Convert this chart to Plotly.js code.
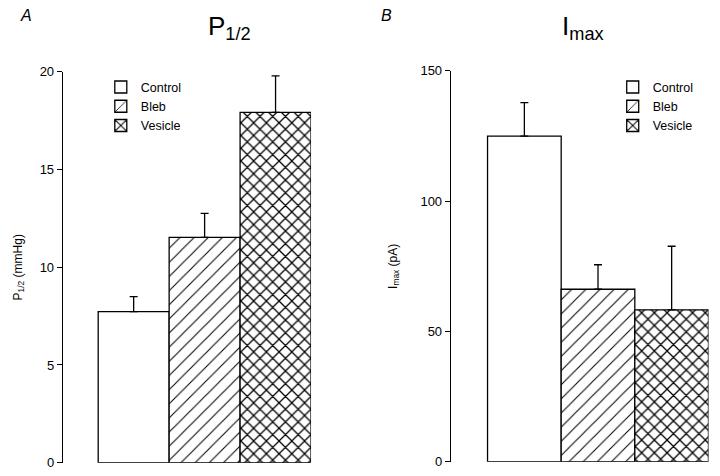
<!DOCTYPE html>
<html>
<head>
<meta charset="utf-8">
<script src="https://cdn.plot.ly/plotly-3.0.1.min.js"></script>
<style>html,body{margin:0;padding:0;background:#fff;}#chart{width:720px;height:476px;}</style>
</head>
<body>
<div id="chart"></div>
<script>
const groups = ['Control', 'Bleb', 'Vesicle'];
const p12Mean = [7.73, 11.53, 17.93];
const p12Err = [0.77, 1.23, 1.87];
const imaxMean = [125, 66.2, 58.3];
const imaxErr = [12.8, 9.4, 24.4];
const patterns = ['', '/', 'x'];
const solidities = [0.1, 0.1, 0.26];
const patternSizes = [10, 10, 9];

const FONT = 'Arial, "Liberation Sans", Helvetica, sans-serif';
const traces = [];
groups.forEach((g, i) => {
  const common = {
    type: 'bar',
    name: g,
    x: [g],
    width: 1,
    marker: {
      color: 'white',
      line: {color: 'black', width: 1.3},
      pattern: {shape: patterns[i], fgcolor: 'black', bgcolor: 'white', size: patternSizes[i], solidity: solidities[i]}
    },
    hoverinfo: 'skip'
  };
  traces.push(Object.assign({}, common, {
    y: [p12Mean[i]],
    xaxis: 'x', yaxis: 'y', legend: 'legend',
    error_y: {type: 'data', symmetric: false, array: [p12Err[i]], arrayminus: [0], color: 'black', thickness: 1.3, width: 4}
  }));
  traces.push(Object.assign({}, common, {
    y: [imaxMean[i]],
    xaxis: 'x2', yaxis: 'y2', legend: 'legend2',
    error_y: {type: 'data', symmetric: false, array: [imaxErr[i]], arrayminus: [0], color: 'black', thickness: 1.3, width: 4}
  }));
});

const xCommon = {showticklabels: false, showline: false, ticks: '', showgrid: false, zeroline: false, range: [-1, 2.5], type: 'category', categoryorder: 'array', categoryarray: groups};
const yCommon = {showline: true, linecolor: 'black', linewidth: 1, ticks: 'outside', ticklen: 5, tickcolor: 'black', showgrid: false, zeroline: false, tickfont: {size: 13, color: 'black'}};

const layout = {
  width: 720, height: 476,
  margin: {l: 0, r: 0, t: 0, b: 0},
  paper_bgcolor: 'white', plot_bgcolor: 'white',
  font: {family: FONT, color: 'black', size: 13},
  barmode: 'overlay', bargap: 0,
  xaxis: Object.assign({}, xCommon, {domain: [0.0871, 0.432], anchor: 'y'}),
  yaxis: Object.assign({}, yCommon, {domain: [0.028, 0.849], range: [0, 20], tickvals: [0, 5, 10, 15, 20], anchor: 'x',
    title: {text: 'P<sub>1/2</sub> (mmHg)', font: {size: 12}, standoff: 14}}),
  xaxis2: Object.assign({}, xCommon, {domain: [0.626, 0.984], anchor: 'y2'}),
  yaxis2: Object.assign({}, yCommon, {domain: [0.030, 0.851], range: [0, 150], tickvals: [0, 50, 100, 150], anchor: 'x2',
    title: {text: 'I<sub>max</sub> (pA)', font: {size: 12}, standoff: 20}}),
  showlegend: true,
  legend: {x: 0.140, y: 0.848, xanchor: 'left', yanchor: 'top', bgcolor: 'rgba(0,0,0,0)', font: {size: 12.5}, tracegroupgap: 0, itemwidth: 30},
  legend2: {x: 0.851, y: 0.848, xanchor: 'left', yanchor: 'top', bgcolor: 'rgba(0,0,0,0)', font: {size: 12.5}, tracegroupgap: 0, itemwidth: 30},
  annotations: [
    {text: '<i>A</i>', xref: 'paper', yref: 'paper', x: 26/720, y: 1 - 16/476, xanchor: 'center', yanchor: 'middle', showarrow: false, font: {size: 16}},
    {text: '<i>B</i>', xref: 'paper', yref: 'paper', x: 386/720, y: 1 - 16/476, xanchor: 'center', yanchor: 'middle', showarrow: false, font: {size: 16}},
    {text: 'P<sub>1/2</sub>', xref: 'paper', yref: 'paper', x: 230/720, y: 1 - 27/476, xanchor: 'center', yanchor: 'middle', showarrow: false, font: {size: 26}},
    {text: 'I<sub>max</sub>', xref: 'paper', yref: 'paper', x: 583/720, y: 1 - 27/476, xanchor: 'center', yanchor: 'middle', showarrow: false, font: {size: 26}}
  ]
};

Plotly.newPlot('chart', traces, layout, {staticPlot: true, displayModeBar: false});
</script>
</body>
</html>
